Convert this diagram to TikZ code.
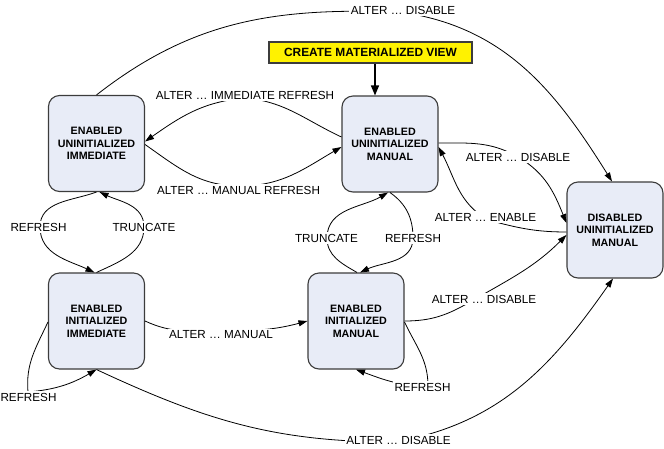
\documentclass[tikz,border=0pt]{standalone}
\usepackage{fontspec}
\setmainfont{Liberation Sans}
\usepackage{xcolor}
\usepackage{tikz}
\usetikzlibrary{arrows.meta,calc}

\definecolor{statefill}{RGB}{232,236,247}
\definecolor{stateline}{RGB}{60,60,60}

\begin{document}
\begin{tikzpicture}[x=1pt,y=1pt,>={Triangle[length=9pt,width=6pt]},
  state/.style={draw=stateline,line width=1.1pt,fill=statefill,rounded corners=11pt,
    minimum width=96pt,minimum height=96pt,inner sep=0pt,align=center,
    font=\bfseries\fontsize{10.7}{12.5}\selectfont},
  createbox/.style={draw=stateline,line width=1.1pt,fill=yellow,minimum width=203pt,
    minimum height=21pt,inner sep=0pt,font=\bfseries\fontsize{11.9}{14}\selectfont},
  lbl/.style={fill=white,inner sep=1.5pt,font=\fontsize{11.7}{14}\selectfont},
  move/.style={->,line width=0.8pt}]
\useasboundingbox (0,0) rectangle (664,-448);
% the five states and the entry point
\node[createbox] (create) at (370.5,-52.5) {CREATE MATERIALIZED VIEW};
\node[state] (eui) at (96.5,-143.5) {ENABLED\\UNINITIALIZED\\IMMEDIATE};
\node[state] (eum) at (390,-144) {ENABLED\\UNINITIALIZED\\MANUAL};
\node[state] (dum) at (615,-230) {DISABLED\\UNINITIALIZED\\MANUAL};
\node[state] (eii) at (96.5,-321) {ENABLED\\INITIALIZED\\IMMEDIATE};
\node[state] (eim) at (356,-321) {ENABLED\\INITIALIZED\\MANUAL};
% creation
\draw[->,line width=1.4pt,>={Triangle[length=10pt,width=8pt]}]
  ([xshift=4.5pt]create.south) -- ([xshift=4.5pt]create.south |- eum.north);
% uninitialized immediate <-> uninitialized manual
\draw[move] ([yshift=7pt]eum.west) to[out=155,in=-5] (245,-98)
  to[out=185,in=35] ([yshift=2pt]eui.east)
  node[lbl] (limm) at (245,-95) {ALTER … IMMEDIATE REFRESH};
\draw[move] ([yshift=-1pt]eui.east) to[out=-35,in=180] (240,-186)
  to[out=0,in=-150] ([yshift=-3pt]eum.west)
  node[lbl] (lman) at (238.5,-190) {ALTER … MANUAL REFRESH};
% immediate: uninitialized <-> initialized
\draw[move] (eui.south) to[out=200,in=90] (40,-227)
  to[out=-90,in=155] ([xshift=-2pt]eii.north)
  node[lbl] (lrefa) at (38.5,-227) {REFRESH};
\draw[move] (eii.north) to[out=25,in=-90] (144,-227)
  to[out=90,in=-25] ([xshift=3pt]eui.south)
  node[lbl] (ltra) at (144,-227) {TRUNCATE};
% manual: uninitialized <-> initialized
\draw[move] ([xshift=1pt]eim.north) to[out=150,in=-90] (327,-238)
  to[out=90,in=-150] ([xshift=-2pt]eum.south)
  node[lbl] (ltrb) at (326.5,-238) {TRUNCATE};
\draw[move] (eum.south) to[out=-35,in=90] (413,-238)
  to[out=-90,in=25] ([xshift=4pt]eim.north)
  node[lbl] (lrefb) at (413,-238) {REFRESH};
% disable / enable
\draw[move] (eui.north) to[out=38,in=178] (400,-12)
  to[out=-8,in=122] ([xshift=-3pt]dum.north)
  node[lbl] (ldisa) at (403,-10) {ALTER … DISABLE};
\draw[move] ([yshift=1pt]eum.east) to[out=0,in=150] (518,-157)
  to[out=-30,in=112] ([yshift=7pt]dum.west)
  node[lbl] (ldisb) at (518,-157) {ALTER … DISABLE};
\draw[move] ([yshift=-2pt]dum.west) to[out=180,in=-15] (488,-220)
  to[out=150,in=-62] ([yshift=-3pt]eum.east)
  node[lbl] (len) at (485.5,-217) {ALTER … ENABLE};
\draw[move] (eim.east) to[out=0,in=210] (470,-302)
  to[out=30,in=-135] ([yshift=-5pt]dum.west)
  node[lbl] (ldisc) at (484,-299) {ALTER … DISABLE};
\draw[move] (eii.south) to[out=-25,in=180] (395,-442)
  to[out=10,in=-125] ([xshift=-2pt]dum.south)
  node[lbl] (ldisd) at (398.5,-440) {ALTER … DISABLE};
% initialized immediate -> initialized manual
\draw[move] (eii.east) to[out=-25,in=180] (221,-331)
  to[out=0,in=-165] (eim.west)
  node[lbl] (lmanb) at (221,-335) {ALTER … MANUAL};
% refresh on initialized states
\draw[move] ([yshift=-1pt]eii.west) to[out=-115,in=95] (28,-392)
  to[out=5,in=-150] (eii.south)
  node[lbl] (lrefc) at (28.5,-397) {REFRESH};
\draw[move] ([yshift=-1pt]eim.east) to[out=-65,in=90] (428,-386)
  to[out=180,in=-20] (eim.south)
  node[lbl] (lrefd) at (422.5,-387) {REFRESH};
\end{tikzpicture}
\end{document}
